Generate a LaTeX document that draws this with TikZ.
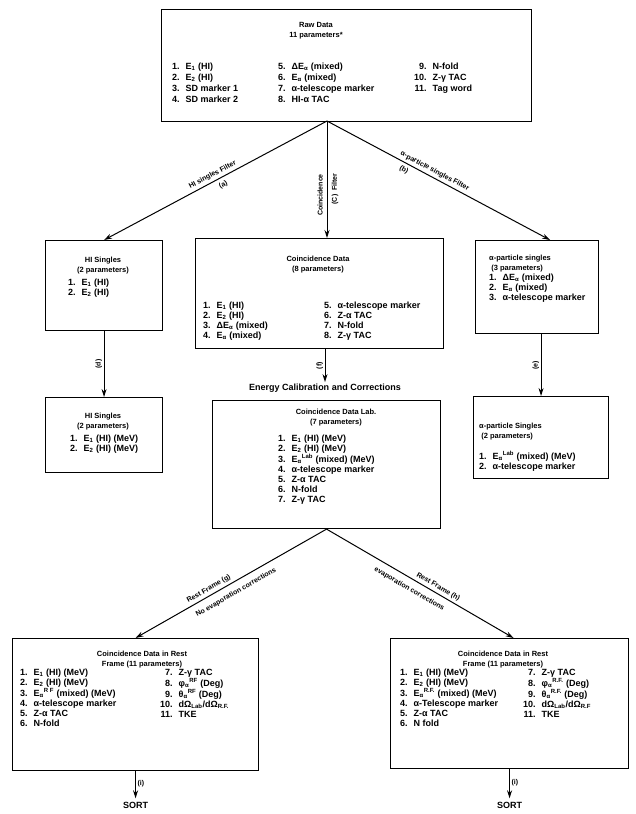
\documentclass[tikz,border=0pt]{standalone}
\usepackage{fontspec}
\setmainfont{Liberation Sans}
\usetikzlibrary{arrows.meta}

\newcommand{\itemfont}{\fontsize{9}{10}\selectfont\bfseries}
\newcommand{\ttlfont}{\fontsize{7.5}{10}\selectfont\bfseries}
\newcommand{\lblfont}{\fontsize{7}{8}\selectfont\bfseries}
\newcommand{\plist}[1]{\begin{tabular}{@{}r@{\hspace{6pt}}l@{}}#1\end{tabular}}
\newcommand{\Ea}{E\textsubscript{α}}

\tikzset{
  box/.style={draw, line width=1.1pt, inner sep=0pt, anchor=north west},
  ttl/.style={font=\ttlfont, align=center, inner sep=0pt},
  lst/.style={font=\itemfont, anchor=north west, inner sep=0pt},
  lbl/.style={font=\lblfont, inner sep=1.5pt},
  flow/.style={-{Stealth[length=8pt,width=5pt]}, line width=1pt},
}

\begin{document}
\begin{tikzpicture}[x=1pt, y=-1pt]
  \useasboundingbox (0,0) rectangle (635,814);

  % Raw data
  \node[box, minimum width=370pt, minimum height=112pt] (raw) at (161,9) {};
  \node[ttl] (rawttl) at (316,31) {Raw Data\\11 parameters*};
  \node[lst] (rawa) at (172,62) {\renewcommand{\arraystretch}{1.1}\plist{1. & E\textsubscript{1} (HI)\\ 2. & E\textsubscript{2} (HI)\\ 3. & SD marker 1\\ 4. & SD marker 2}};
  \node[lst] (rawb) at (278,62) {\renewcommand{\arraystretch}{1.1}\plist{5. & Δ\Ea{} (mixed)\\ 6. & \Ea{} (mixed)\\ 7. & α-telescope marker\\ 8. & HI-α TAC}};
  \node[lst] (rawc) at (414,62) {\renewcommand{\arraystretch}{1.1}\plist{9. & N-fold\\ 10. & Z-γ TAC\\ 11. & Tag word}};
  \coordinate (rawfork) at (327,121);

  % First row
  \node[box, minimum width=117pt, minimum height=90pt] (hi1) at (45,240) {};
  \node[ttl] (hi1ttl) at (103,266) {HI Singles\\(2 parameters)};
  \node[lst] (hi1lst) at (68,278) {\plist{1. & E\textsubscript{1} (HI)\\ 2. & E\textsubscript{2} (HI)}};

  \node[box, minimum width=248pt, minimum height=110pt] (coinc) at (195,238) {};
  \node[ttl] (coincttl) at (318,265) {Coincidence Data\\(8 parameters)};
  \node[lst] (coinca) at (203,301) {\plist{1. & E\textsubscript{1} (HI)\\ 2. & E\textsubscript{2} (HI)\\ 3. & Δ\Ea{} (mixed)\\ 4. & \Ea{} (mixed)}};
  \node[lst] (coincb) at (324,301) {\plist{5. & α-telescope marker\\ 6. & Z-α TAC\\ 7. & N-fold\\ 8. & Z-γ TAC}};

  \node[box, minimum width=123pt, minimum height=93pt] (alpha1) at (475,240) {};
  \node[ttl, anchor=north west, align=left] (alpha1ttl) at (489,255) {α-particle singles\\\ (3 parameters)};
  \node[lst] (alpha1lst) at (489,273) {\plist{1. & Δ\Ea{} (mixed)\\ 2. & \Ea{} (mixed)\\ 3. & α-telescope marker}};

  % Second row
  \node[box, minimum width=117pt, minimum height=75pt] (hi2) at (45,397) {};
  \node[ttl] (hi2ttl) at (103,422) {HI Singles\\(2 parameters)};
  \node[lst] (hi2lst) at (70,434) {\plist{1. & E\textsubscript{1} (HI) (MeV)\\ 2. & E\textsubscript{2} (HI) (MeV)}};

  \node[lbl, font=\itemfont] (calib) at (325,388) {Energy Calibration and Corrections};

  \node[box, minimum width=228pt, minimum height=128pt] (lab) at (212,400) {};
  \node[ttl] (labttl) at (336,418) {Coincidence Data Lab.\\(7 parameters)};
  \node[lst] (lablst) at (278,434) {\plist{1. & E\textsubscript{1} (HI) (MeV)\\ 2. & E\textsubscript{2} (HI) (MeV)\\ 3. & \Ea\textsuperscript{Lab} (mixed) (MeV)\\ 4. & α-telescope marker\\ 5. & Z-α TAC\\ 6. & N-fold\\ 7. & Z-γ TAC}};

  \node[box, minimum width=135pt, minimum height=82pt] (alpha2) at (473,396) {};
  \node[ttl, anchor=north west, align=left] (alpha2ttl) at (479,423) {α-particle Singles\\\ (2 parameters)};
  \node[lst] (alpha2lst) at (479,451) {\plist{1. & \Ea\textsuperscript{Lab} (mixed) (MeV)\\ 2. & α-telescope marker}};

  % Rest frame
  \node[box, minimum width=246pt, minimum height=132pt] (restg) at (12,638) {};
  \node[ttl] (restgttl) at (142,660) {Coincidence Data in Rest\\Frame (11 parameters)};
  \node[lst] (restga) at (20,668) {\plist{1. & E\textsubscript{1} (HI) (MeV)\\ 2. & E\textsubscript{2} (HI) (MeV)\\ 3. & \Ea\textsuperscript{R F} (mixed) (MeV)\\ 4. & α-telescope marker\\ 5. & Z-α TAC\\ 6. & N-fold}};
  \node[lst] (restgb) at (160,668) {\plist{7. & Z-γ TAC\\ 8. & φ\textsubscript{α}\textsuperscript{RF} (Deg)\\ 9. & θ\textsubscript{α}\textsuperscript{RF} (Deg)\\ 10. & dΩ\textsubscript{Lab}/dΩ\textsubscript{R.F.}\\ 11. & TKE}};

  \node[box, minimum width=238pt, minimum height=130pt] (resth) at (390,638) {};
  \node[ttl] (resthttl) at (503,660) {Coincidence Data in Rest\\Frame (11 parameters)};
  \node[lst] (restha) at (400,668) {\plist{1. & E\textsubscript{1} (HI) (MeV)\\ 2. & E\textsubscript{2} (HI) (MeV)\\ 3. & \Ea\textsuperscript{R.F.} (mixed) (MeV)\\ 4. & α-Telescope marker\\ 5. & Z-α TAC\\ 6. & N fold}};
  \node[lst] (resthb) at (523,668) {\plist{7. & Z-γ TAC\\ 8. & φ\textsubscript{α}\textsuperscript{R.F.} (Deg)\\ 9. & θ\textsubscript{α}\textsuperscript{R.F.} (Deg)\\ 10. & dΩ\textsubscript{Lab}/dΩ\textsubscript{R.F}\\ 11. & TKE}};

  \node[font=\itemfont] (sortg) at (restg.south |- 0,805) {SORT};
  \node[font=\itemfont] (sorth) at (resth.south |- 0,805) {SORT};

  % Filters
  \draw[flow] (rawfork) -- (hi1.north)
    node[lbl, sloped, above=1pt, pos=0.5] {HI singles Filter}
    node[lbl, sloped, below=2pt, pos=0.48] {(a)};
  \draw[flow] (rawfork) -- (rawfork |- coinc.north);
  \node[lbl, rotate=90] (coinclbl) at (320,195) {Coincidence};
  \node[lbl, rotate=90] (filterlbl) at (335,189) {(C)\ \ Filter};
  \draw[flow] (rawfork) -- ([xshift=13pt]alpha1.north)
    node[lbl, sloped, above=1pt, pos=0.47] {α-particle singles Filter}
    node[lbl, sloped, below=2pt, pos=0.36] {(b)};

  \draw[flow] (hi1.south) -- (hi2.north) node[lbl, rotate=90, above, pos=0.5] {(d)};
  \draw[flow] (alpha1.south -| alpha2.north) -- (alpha2.north) node[lbl, rotate=90, above, pos=0.5] {(e)};
  \draw[flow] (coinc.south -| calib.north) -- (calib.north) node[lbl, rotate=90, above, pos=0.5] {(f)};

  % Rest frame transformations
  \draw[flow] (lab.south) -- (restg.north)
    node[lbl, sloped, above=1pt, pos=0.6] {Rest Frame (g)}
    node[lbl, sloped, below=5pt, pos=0.5] {No evaporation corrections};
  \draw[flow] (lab.south) -- ([xshift=4pt]resth.north)
    node[lbl, sloped, above=1pt, pos=0.58] {Rest Frame (h)}
    node[lbl, sloped, below=5pt, pos=0.47] {evaporation corrections};

  \draw[flow] (restg.south) -- (sortg.north) node[lbl, right, pos=0.45] {(i)};
  \draw[flow] (resth.south) -- (sorth.north) node[lbl, right, pos=0.45] {(i)};
\end{tikzpicture}
\end{document}
